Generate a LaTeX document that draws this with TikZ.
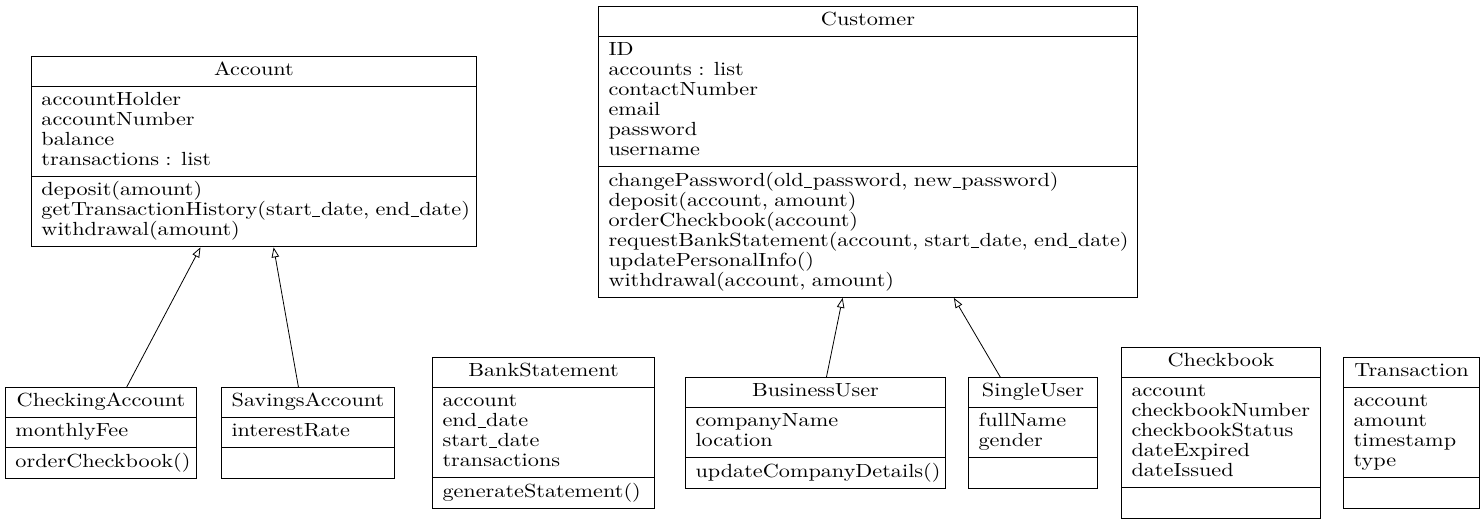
\documentclass[tikz,border=0pt]{standalone}
\usepackage{fontspec}
\setmainfont{lmroman10-regular.otf}[FakeStretch=1.17]
\usepackage{tikz}
\usetikzlibrary{positioning, arrows.meta, shapes.multipart, calc}
\newcommand{\umlfont}{\fontsize{19}{20}\selectfont\lineskiplimit=-10pt}
\newcommand{\head}[1]{\hbox to\hsize{\hfil\strut #1\hfil}}
\newcommand{\us}{\kern0.03em\rule[-1.2pt]{0.42em}{0.6pt}\kern0.03em}
\tikzset{
  klass/.style={rectangle split, rectangle split parts=3, draw, line width=1pt,
                anchor=north west, align=left, font=\umlfont,
                inner xsep=10pt, inner ysep=4.6pt},
  inh/.style={-{Triangle[open, length=10pt, width=7.5pt]}, line width=0.8pt},
}

\begin{document}
\begin{tikzpicture}[x=1pt, y=-1pt]
  \useasboundingbox (0,0) rectangle (1484,525);
  % base classes
  \node[klass, text width=425pt] (account) at (31,55.5)
    {\head{Account}
     \nodepart{two}\strut accountHolder\\accountNumber\\balance\\transactions : list\strut
     \nodepart{three}\strut deposit(amount)\\\mbox{getTransactionHistory(start\us date, end\us date)}\\withdrawal(amount)\strut};
  \node[klass, text width=519pt] (customer) at (598,6)
    {\head{Customer}
     \nodepart{two}\strut ID\\accounts : list\\contactNumber\\email\\password\\username\strut
     \nodepart{three}\strut changePassword(old\us password, new\us password)\\deposit(account, amount)\\orderCheckbook(account)\\\mbox{requestBankStatement(account, start\us date, end\us date)}\\updatePersonalInfo()\\withdrawal(account, amount)\strut};
  % bottom row
  \node[klass, text width=171pt] (checking) at (5,387)
    {\head{CheckingAccount}
     \nodepart{two}\strut monthlyFee\strut
     \nodepart{three}\strut orderCheckbook()\strut};
  \node[klass, text width=153pt] (savings) at (221,387)
    {\head{SavingsAccount}
     \nodepart{two}\strut interestRate\strut
     \nodepart{three}\strut};
  \node[klass, text width=202pt] (statement) at (432,357)
    {\head{BankStatement}
     \nodepart{two}\strut account\\end\us date\\start\us date\\transactions\strut
     \nodepart{three}\strut generateStatement()\strut};
  \node[klass, text width=240pt] (business) at (685,377)
    {\head{BusinessUser}
     \nodepart{two}\strut companyName\\location\strut
     \nodepart{three}\strut updateCompanyDetails()\strut};
  \node[klass, text width=109pt] (single) at (968,377)
    {\head{SingleUser}
     \nodepart{two}\strut fullName\\gender\strut
     \nodepart{three}\strut};
  \node[klass, text width=179pt] (checkbook) at (1121,347)
    {\head{Checkbook}
     \nodepart{two}\strut account\\checkbookNumber\\checkbookStatus\\dateExpired\\dateIssued\strut
     \nodepart{three}\strut};
  \node[klass, text width=116pt] (transaction) at (1343,357)
    {\head{Transaction}
     \nodepart{two}\strut account\\amount\\timestamp\\type\strut
     \nodepart{three}\strut};
  % inheritance
  \draw[inh] ($(checking.north west)!0.634!(checking.north east)$) -- ($(account.south west)!0.38!(account.south east)$);
  \draw[inh] ($(savings.north west)!0.445!(savings.north east)$) -- ($(account.south west)!0.544!(account.south east)$);
  \draw[inh] ($(business.north west)!0.542!(business.north east)$) -- ($(customer.south west)!0.453!(customer.south east)$);
  \draw[inh] ($(single.north west)!0.248!(single.north east)$) -- ($(customer.south west)!0.659!(customer.south east)$);
\end{tikzpicture}
\end{document}
